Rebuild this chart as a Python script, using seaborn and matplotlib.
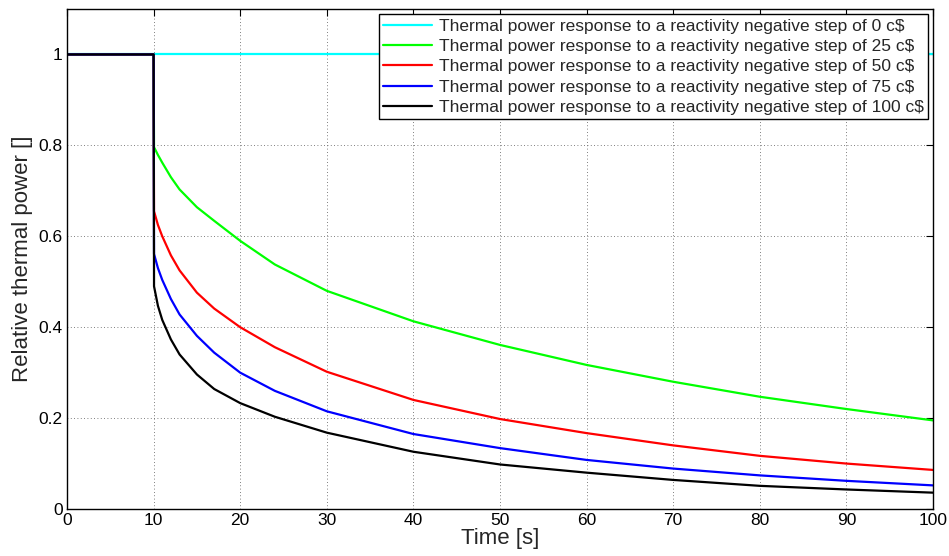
import numpy as np
import pandas as pd
import seaborn as sns
import matplotlib
matplotlib.use("Agg")
import matplotlib.pyplot as plt

# Time samples [s]
time = [0, 10, 10.05, 10.5, 11, 12, 13, 15, 17, 20, 24, 30, 40, 50, 60, 70, 80, 90, 100]

# Relative thermal power for each negative reactivity step
p_0 = [1.0] * len(time)
p_25 = [1.0, 1.0, 0.796, 0.779, 0.762, 0.730, 0.703, 0.664, 0.634, 0.590, 0.538, 0.480,
        0.413, 0.361, 0.317, 0.280, 0.247, 0.220, 0.195]
p_50 = [1.0, 1.0, 0.655, 0.625, 0.600, 0.558, 0.525, 0.476, 0.441, 0.400, 0.356, 0.302,
        0.240, 0.198, 0.167, 0.140, 0.117, 0.100, 0.086]
p_75 = [1.0, 1.0, 0.561, 0.530, 0.504, 0.462, 0.428, 0.381, 0.344, 0.300, 0.260, 0.215,
        0.165, 0.134, 0.108, 0.089, 0.074, 0.062, 0.052]
p_100 = [1.0, 1.0, 0.490, 0.447, 0.416, 0.373, 0.340, 0.296, 0.264, 0.233, 0.203, 0.168,
         0.126, 0.098, 0.080, 0.064, 0.051, 0.043, 0.036]

steps = ["0", "25", "50", "75", "100"]
series = [p_0, p_25, p_50, p_75, p_100]
colors = ["#00ffff", "#00ff00", "#ff0000", "#0000ff", "#000000"]
labels = [r"Thermal power response to a reactivity negative step of %s c\$" % s for s in steps]

rows = []
for lab, vals in zip(labels, series):
    for t, v in zip(time, vals):
        rows.append({"Time": t, "Power": v, "Series": lab})
df = pd.DataFrame(rows)

sns.set_style("white")
plt.rcParams["font.family"] = ["Liberation Sans", "DejaVu Sans"]

fig = plt.figure(figsize=(9.49, 5.56), dpi=100)
ax = fig.add_axes([0.0706, 0.0845, 0.9125, 0.8993])

sns.lineplot(data=df, x="Time", y="Power", hue="Series", hue_order=labels,
             palette=colors, estimator=None, sort=False, linewidth=1.6, ax=ax)

ax.set_xlim(0, 100)
ax.set_ylim(0, 1.1)
ax.set_xticks(np.arange(0, 101, 10))
ax.set_yticks([0, 0.2, 0.4, 0.6, 0.8, 1.0])
ax.set_yticklabels(["0", "0.2", "0.4", "0.6", "0.8", "1"])
ax.grid(True, linestyle=(0, (1, 3)), color="#555555", linewidth=0.6)
ax.tick_params(direction="in", length=5, width=0.8, top=True, right=True,
               labelsize=12.5, colors="black", pad=3)
for sp in ax.spines.values():
    sp.set_color("black")
    sp.set_linewidth(1.0)

ax.set_xlabel("Time [s]", fontsize=16, labelpad=0)
ax.set_ylabel("Relative thermal power []", fontsize=16, labelpad=4)

leg = ax.legend(loc="upper right", fontsize=12.5, frameon=True, fancybox=False,
                edgecolor="black", framealpha=1, borderaxespad=0.3,
                labelspacing=0.3, handlelength=2.8, handletextpad=0.4,
                borderpad=0.25)
leg.get_frame().set_linewidth(1.0)

fig.savefig("out.png", dpi=100)
